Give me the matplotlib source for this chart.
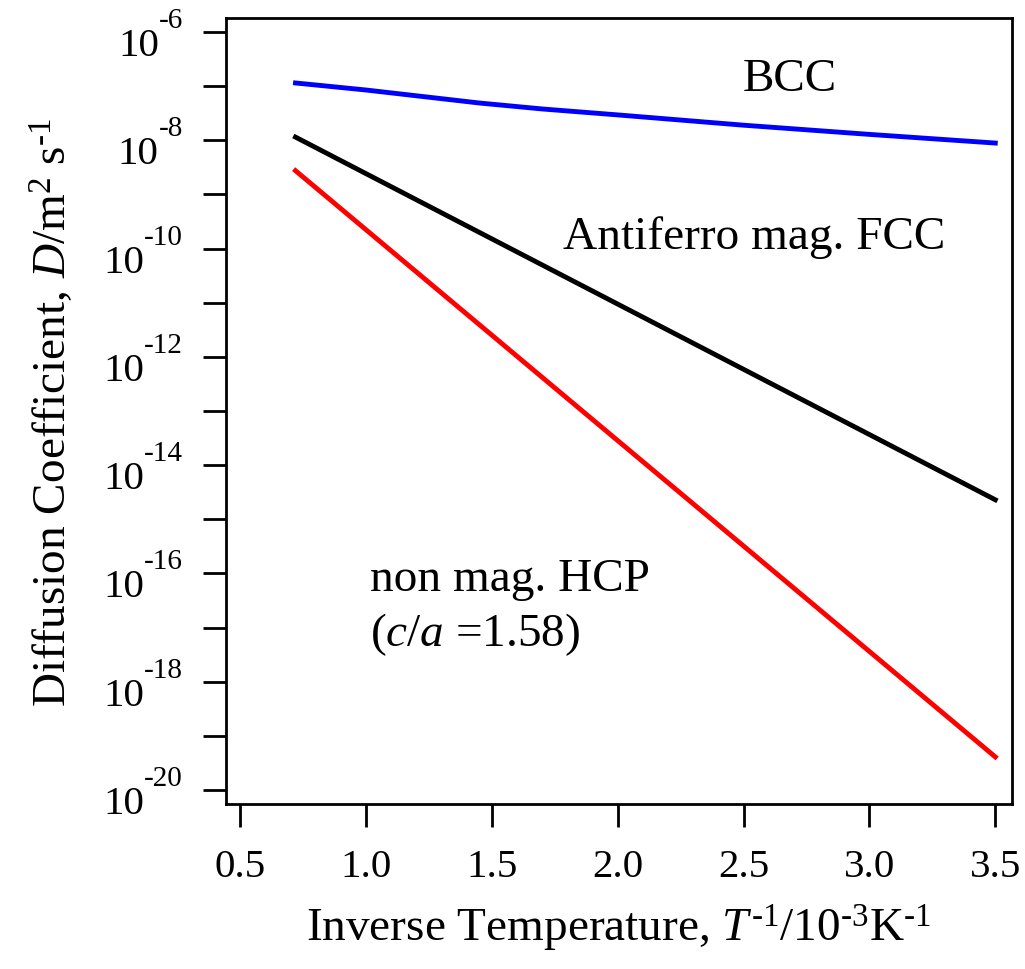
import numpy as np
import matplotlib
matplotlib.use("Agg")
import matplotlib.pyplot as plt
from matplotlib.ticker import FixedLocator, NullFormatter, FuncFormatter
from matplotlib.transforms import blended_transform_factory, offset_copy

plt.rcParams['font.family'] = ['Liberation Serif', 'DejaVu Serif']
plt.rcParams['mathtext.fontset'] = 'custom'
plt.rcParams['mathtext.rm'] = 'Liberation Serif'
plt.rcParams['mathtext.it'] = 'Liberation Serif:italic'

# inverse temperature, 10^-3 K^-1  /  log10 of D (m^2 s^-1)
x_bcc = [0.72, 1.0, 1.45, 1.7, 2.0, 2.5, 3.0, 3.5]
logD_bcc = [-6.94, -7.07, -7.31, -7.42, -7.53, -7.72, -7.89, -8.05]

x_fcc = [0.72, 3.5]
logD_fcc = [-7.94, -14.64]

x_hcp = [0.72, 3.5]
logD_hcp = [-8.56, -19.39]

y_major = list(range(-20, -5, 2))
y_minor = list(range(-19, -6, 2))
x_ticks = [0.5, 1.0, 1.5, 2.0, 2.5, 3.0, 3.5]

fig = plt.figure(figsize=(10.25, 9.7), dpi=100)
ax = fig.add_axes([0.2205, 0.1701, 0.7665, 0.8103])

ax.plot(x_bcc, 10.0**np.array(logD_bcc), color='#0000ff', lw=3.5)
ax.plot(x_fcc, 10.0**np.array(logD_fcc), color='black', lw=3.5)
ax.plot(x_hcp, 10.0**np.array(logD_hcp), color='#ff0000', lw=3.5)

ax.set_yscale('log')
ax.set_xlim(0.444, 3.565)
ax.set_ylim(10**-20.26, 10**-5.74)

ax.yaxis.set_major_locator(FixedLocator([10.0**k for k in y_major]))
ax.yaxis.set_minor_locator(FixedLocator([10.0**k for k in y_minor]))
ax.yaxis.set_major_formatter(NullFormatter())
ax.yaxis.set_minor_formatter(NullFormatter())

ax.set_xticks(x_ticks)
ax.xaxis.set_major_formatter(FuncFormatter(lambda v, p: '%.1f' % v))

ax.tick_params(axis='both', which='both', direction='out', length=16.5,
               width=2, labelsize=29.5, top=False, right=False)
ax.tick_params(axis='x', pad=15)
for s in ax.spines.values():
    s.set_linewidth(2)

# y tick labels: "10" plus a big raised exponent, built by hand
trans = blended_transform_factory(ax.transAxes, ax.transData)
fig.canvas.draw()
r = fig.canvas.get_renderer()
ax_left = ax.get_window_extent(r).x0
for k in y_major:
    e = ax.text(0, 10.0**k, '-%d' % -k, fontsize=21, ha='right', va='baseline',
                transform=offset_copy(trans, fig=fig, x=-43, y=5, units='dots'))
    bb = e.get_window_extent(r)
    ax.text(0, 10.0**k, '10', fontsize=29.5, ha='right', va='baseline',
            transform=offset_copy(trans, fig=fig, x=bb.x0 - ax_left, y=-23, units='dots'))

ax.set_ylabel(r'Diffusion Coefficient, $D$/m$^{2}$ s$^{\text{-1}}$', fontsize=34)
ax.yaxis.set_label_coords(-0.19, 0.5)
ax.set_xlabel(r'Inverse Temperature, $T^{\text{-1}}$/10$^{\text{-3}}$K$^{\text{-1}}$', fontsize=34)
ax.xaxis.set_label_coords(0.5, -0.125)

ax.text(2.497, 10**-6.87, 'BCC', fontsize=34, va='center', ha='left')
ax.text(1.782, 10**-9.77, 'Antiferro mag. FCC', fontsize=34, va='center', ha='left')
ax.text(1.016, 10**-16.1, 'non mag. HCP', fontsize=34, va='center', ha='left')
ax.text(1.016, 10**-17.12, r'($c$/$a$ =1.58)', fontsize=34, va='center', ha='left')

fig.savefig('out.png', dpi=100)
